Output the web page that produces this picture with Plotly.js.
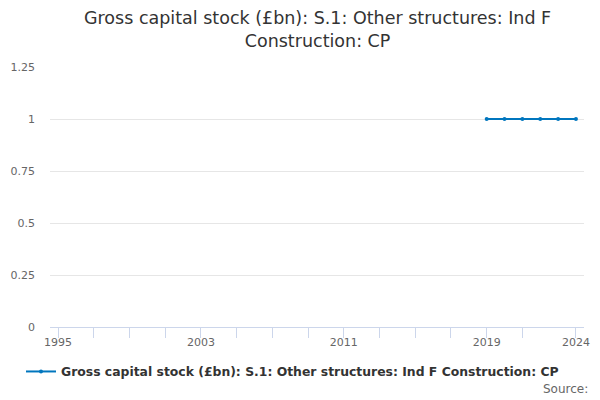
<!DOCTYPE html>
<html>
<head>
<meta charset="utf-8">
<script src="https://cdn.plot.ly/plotly-3.0.1.min.js"></script>
<style>html,body{margin:0;padding:0;background:#fff;}#chart{width:600px;height:400px;}</style>
</head>
<body>
<div id="chart"></div>
<script>
const years = [2019, 2020, 2021, 2022, 2023, 2024];
const values = [1, 1, 1, 1, 1, 1];
const seriesName = "Gross capital stock (£bn): S.1: Other structures: Ind F Construction: CP";
const titleText = "Gross capital stock (£bn): S.1: Other structures: Ind F<br>Construction: CP";
const xTickVals = [1995, 1997, 1999, 2001, 2003, 2005, 2007, 2009, 2011, 2013, 2015, 2017, 2019, 2021, 2024];
const xTickText = ["1995", "", "", "", "2003", "", "", "", "2011", "", "", "", "2019", "", "2024"];
const yTickVals = [0, 0.25, 0.5, 0.75, 1, 1.25];
const yTickText = ["0", "0.25", "0.5", "0.75", "1", "1.25"];

const trace = {
  x: years, y: values, type: "scatter", mode: "lines+markers", name: seriesName,
  line: {color: "#0076be", width: 2},
  marker: {color: "#0076be", size: 4}
};
const layout = {
  width: 600, height: 400,
  margin: {l: 50, r: 16, t: 67, b: 73},
  paper_bgcolor: "#fff", plot_bgcolor: "#fff",
  font: {family: "DejaVu Sans, sans-serif", color: "#666"},
  xaxis: {range: [1994.55, 2024.45], tickmode: "array", tickvals: xTickVals, ticktext: xTickText,
    ticks: "outside", ticklen: 10, tickcolor: "#ccd6eb", tickwidth: 1, ticklabelstandoff: -5,
    showline: true, linecolor: "#ccd6eb", linewidth: 1, showgrid: false, zeroline: false,
    tickfont: {size: 11, color: "#666"}, fixedrange: true},
  yaxis: {range: [0, 1.25], tickmode: "array", tickvals: yTickVals, ticktext: yTickText,
    showgrid: true, gridcolor: "#e6e6e6", zeroline: false, showline: false,
    ticks: "", ticklabelstandoff: 14, tickfont: {size: 11, color: "#666"}},
  showlegend: true,
  legend: {orientation: "h", x: (21 - 50) / 534, xanchor: "left", y: -0.115, yanchor: "top", itemwidth: 30,
    font: {size: 12.4, color: "#333", family: "DejaVu Sans, sans-serif", weight: "bold"}},
  annotations: [
    {text: titleText, xref: "paper", yref: "paper", x: 0.5, y: (400 - 6 - 73) / 260, xanchor: "center", yanchor: "top",
      showarrow: false, align: "center", font: {size: 17.5, color: "#333"}},
    {text: "Source:", xref: "paper", yref: "paper", x: 1.012, y: -0.205, xanchor: "right", yanchor: "top",
      showarrow: false, font: {size: 12, color: "#666"}}]
};
Plotly.newPlot("chart", [trace], layout, {displayModeBar: false, staticPlot: true});
</script>
</body>
</html>
